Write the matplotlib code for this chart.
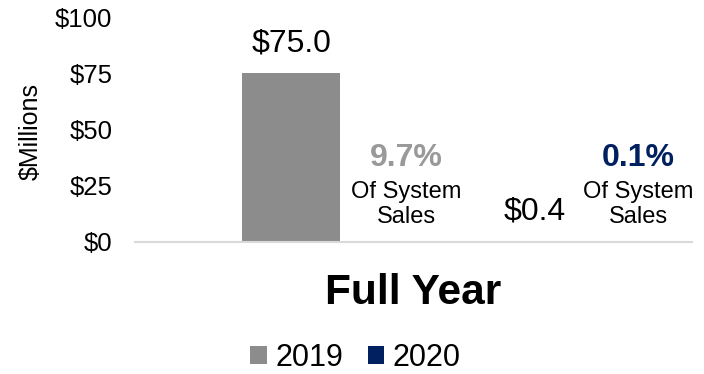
import matplotlib
matplotlib.use("Agg")
import matplotlib.pyplot as plt
from matplotlib.patches import Patch

plt.rcParams['font.family'] = ['Liberation Sans', 'DejaVu Sans']

# Data
years = ["2019", "2020"]
values = [75.0, 0.4]
value_labels = ["$75.0", "$0.4"]
share_labels = ["9.7%", "0.1%"]
category = "Full Year"
yticks = [0, 25, 50, 75, 100]
ytick_labels = ["$0", "$25", "$50", "$75", "$100"]

bar_colors = ["#8c8c8c", "#002060"]
share_colors = ["#999999", "#002060"]

fig = plt.figure(figsize=(7.04, 3.74), dpi=100)
ax = fig.add_axes([0.192, 0.353, 0.791, 0.6015])

bar_x = [0.280, 0.718]
share_x = [0.4865, 0.903]
bar_w = 0.176

ax.bar(bar_x, values, width=bar_w, color=bar_colors, zorder=2)

for x, v, lab in zip(bar_x, values, value_labels):
    ax.annotate(lab, (x, v), xytext=(0, 21.5), textcoords="offset points",
                ha="center", va="center", fontsize=23, color="black")

for x, s, c in zip(share_x, share_labels, share_colors):
    ax.text(x, 37.3, s, ha="center", va="center", fontsize=23,
            fontweight="bold", color=c)
    ax.text(x, 16.7, "Of System\nSales", ha="center", va="center",
            fontsize=17, color="black", linespacing=1.2)

ax.set_xlim(0, 1)
ax.set_ylim(0, 100)
ax.set_yticks(yticks)
ax.set_yticklabels(ytick_labels, fontsize=18.5)
ax.tick_params(axis="y", length=0, pad=16.5)
ax.set_xticks([])

for side in ["top", "right", "left"]:
    ax.spines[side].set_visible(False)
ax.spines["bottom"].set_color("#d9d9d9")
ax.spines["bottom"].set_linewidth(1.5)

ax.set_ylabel("$Millions", fontsize=18, va="center")
ax.yaxis.set_label_coords(-0.187, 0.493)
ax.set_xlabel(category, fontsize=30.5, fontweight="bold", va="center")
ax.xaxis.set_label_coords(0.5, -0.227)

handles = [Patch(facecolor=c, edgecolor="none") for c in bar_colors]
fig.legend(handles, years, loc="center", bbox_to_anchor=(0.505, 0.043),
           ncol=2, frameon=False, fontsize=22, handlelength=0.55,
           handleheight=0.55, handletextpad=0.27, columnspacing=0.8)

fig.savefig("out.png", dpi=100)
